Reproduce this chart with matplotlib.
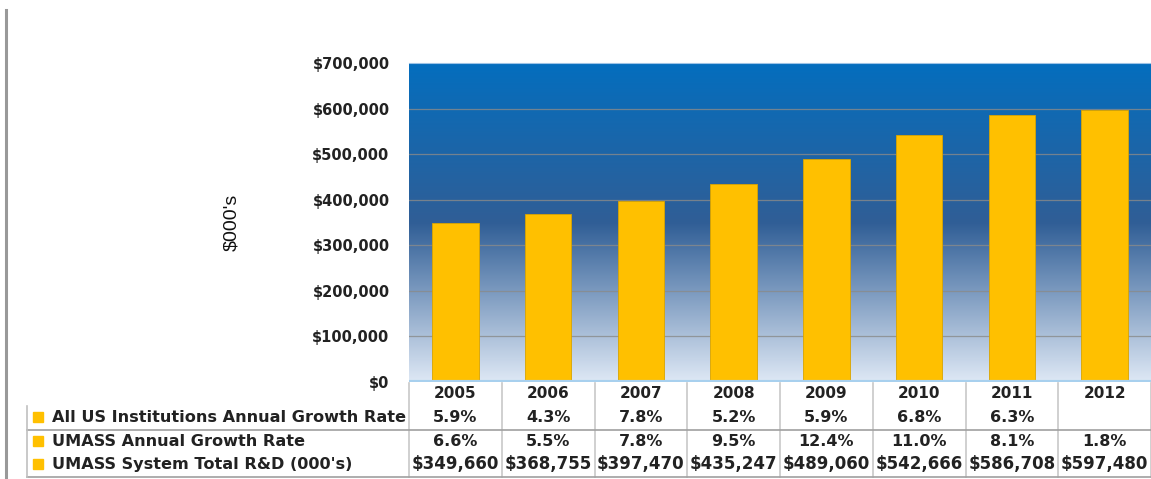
import numpy as np
import matplotlib
matplotlib.use("Agg")
import matplotlib.pyplot as plt
from matplotlib.colors import LinearSegmentedColormap
from matplotlib.lines import Line2D
from matplotlib.patches import Rectangle
import matplotlib.transforms as mtransforms

years = ["2005", "2006", "2007", "2008", "2009", "2010", "2011", "2012"]
totals = [349660, 368755, 397470, 435247, 489060, 542666, 586708, 597480]
us_growth = ["5.9%", "4.3%", "7.8%", "5.2%", "5.9%", "6.8%", "6.3%", ""]
umass_growth = ["6.6%", "5.5%", "7.8%", "9.5%", "12.4%", "11.0%", "8.1%", "1.8%"]
row_labels = ["All US Institutions Annual Growth Rate",
              "UMASS Annual Growth Rate",
              "UMASS System Total R&D (000's)"]
yticks = [0, 100000, 200000, 300000, 400000, 500000, 600000, 700000]

W, H = 1151, 479
fig = plt.figure(figsize=(W / 100, H / 100), dpi=100)
fig.patch.set_facecolor("white")

def fx(px):
    return px / W

def fy(py):
    return 1 - py / H

ax_left, ax_right, ax_top, ax_bot = 409, 1151, 63, 382
ax = fig.add_axes([fx(ax_left), fy(ax_bot), fx(ax_right - ax_left), (ax_bot - ax_top) / H])

# gradient background
cmap = LinearSegmentedColormap.from_list(
    "bg", [(0.0, (222/255, 232/255, 245/255)),
           (0.5, (48/255, 94/255, 150/255)),
           (1.0, (4/255, 110/255, 190/255))])
grad = np.linspace(0, 1, 256).reshape(-1, 1)
ax.imshow(grad, aspect="auto", cmap=cmap, origin="lower",
          extent=[0, 1, 0, 1], transform=ax.transAxes, zorder=0)

x = np.arange(len(years))
ax.set_xlim(-0.5, len(years) - 0.5)
ax.set_ylim(0, 700000)
for v in yticks[1:-1]:
    ax.axhline(v, color="#8a8a8a", lw=0.9, alpha=0.8, zorder=1)
ax.bar(x, totals, width=0.5, color="#FFC000", edgecolor="#D9A400", linewidth=0.6, zorder=2)
ax.axhline(0, color="#A8D0EE", lw=3, zorder=3)

ax.set_yticks(yticks)
ax.set_yticklabels(["${:,.0f}".format(v) for v in yticks], fontsize=10.5,
                   fontweight="bold", color="#222222")
ax.tick_params(axis="y", length=0, pad=14)
ax.set_xticks([])
for s in ax.spines.values():
    s.set_visible(False)
ax.spines["top"].set_visible(True)
ax.spines["top"].set_color("#9DC3E6")
ax.spines["top"].set_linewidth(0.8)

fig.text(fx(232), fy(222), "$000's", rotation=90, ha="center", va="center",
         fontsize=14, family="Liberation Sans", color="#111111")

# table
trans = mtransforms.blended_transform_factory(ax.transData, fig.transFigure)
row_y = [394, 417, 441, 464]
row_fs = [11, 11.5, 11.5, 12]
for i, yr in enumerate(years):
    cells = [yr, us_growth[i], umass_growth[i], "${:,.0f}".format(totals[i])]
    for r, txt in enumerate(cells):
        ax.text(i, fy(row_y[r]), txt, transform=trans, ha="center", va="center",
                fontsize=row_fs[r], fontweight="bold", color="#222222", clip_on=False)

# vertical column separators
for b in np.arange(len(years) + 1) - 0.5:
    ax.add_line(Line2D([b, b], [fy(383), fy(477)], transform=trans, color="#c8c8c8",
                       lw=1.2, clip_on=False))

for j, lab in enumerate(row_labels):
    yy = row_y[j + 1]
    fig.patches.append(Rectangle((fx(33), fy(yy + 5)), fx(10), 10 / H,
                                 transform=fig.transFigure, color="#FFC000"))
    fig.text(fx(52), fy(yy), lab, ha="left", va="center", fontsize=11.6,
             fontweight="bold", color="#222222")

fig.add_artist(Line2D([fx(27), fx(1151)], [fy(429.5), fy(429.5)], color="#a0a0a0", lw=1.2))
fig.add_artist(Line2D([fx(27), fx(1151)], [fy(477), fy(477)], color="#a0a0a0", lw=1.2))
fig.add_artist(Line2D([fx(27), fx(27)], [fy(406), fy(477)], color="#c0c0c0", lw=1.2))
fig.add_artist(Line2D([fx(6), fx(6)], [fy(10), fy(479)], color="#999999", lw=2.2))

fig.savefig("out.png", dpi=100, facecolor="white")
